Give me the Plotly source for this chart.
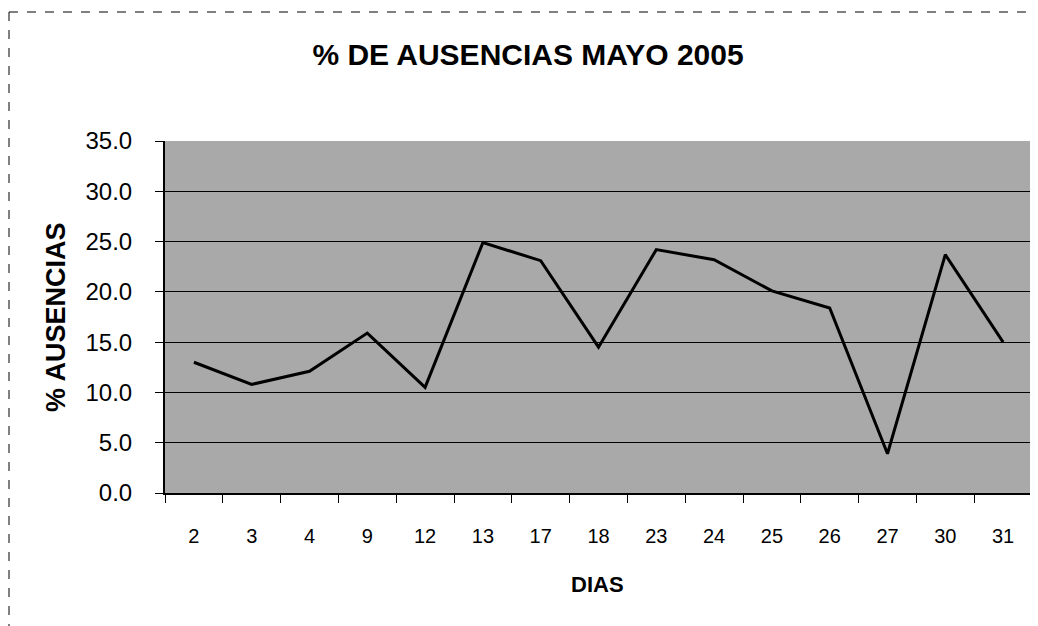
import plotly.graph_objects as go

dias = ["2", "3", "4", "9", "12", "13", "17", "18", "23", "24", "25", "26", "27", "30", "31"]
ausencias = [13.0, 10.8, 12.1, 15.9, 10.5, 24.9, 23.1, 14.5, 24.2, 23.2, 20.1, 18.4, 3.9, 23.7, 15.0]
y_ticks = [0, 5, 10, 15, 20, 25, 30, 35]
y_tick_text = ["0.0", "5.0", "10.0", "15.0", "20.0", "25.0", "30.0", "35.0"]

FONT = "Liberation Sans, Arial, sans-serif"

# the page body has an 8px margin; work in figure coordinates = reference - 8
OFF = 8
W, H = 1030, 618
L, T = 165 - OFF, 141 - OFF
R = W - (1032 - OFF)
B = H - (493 - OFF)
pw = W - L - R
ph = H - T - B


def px(x):
    return (x - OFF - L) / pw


def py(y):
    return (H - B - (y - OFF)) / ph


fig = go.Figure()
fig.add_trace(go.Scatter(
    x=dias, y=ausencias, mode="lines",
    line=dict(color="black", width=3),
    showlegend=False,
))

fig.update_layout(
    width=W, height=H,
    margin=dict(l=L, r=R, t=T, b=B),
    paper_bgcolor="white",
    plot_bgcolor="#a9a9a9",
    font=dict(family=FONT, color="black"),
    title=dict(text="<b>% DE AUSENCIAS MAYO 2005</b>", x=(528 - OFF) / W, xanchor="center",
               y=1 - (54 - OFF) / H, yanchor="middle", font=dict(size=30, family=FONT)),
    xaxis=dict(
        type="category", range=[-0.5, len(dias) - 0.5],
        showgrid=False, showline=True, linecolor="black", linewidth=2,
        ticks="outside", tickson="boundaries", ticklen=8, tickcolor="black",
        tickfont=dict(size=20, family=FONT), ticklabelstandoff=24,
        zeroline=False,
    ),
    yaxis=dict(
        range=[0, 35], tickvals=y_ticks, ticktext=y_tick_text,
        showgrid=True, gridcolor="black", gridwidth=1,
        showline=True, linecolor="black", linewidth=2,
        ticks="outside", ticklen=8, tickcolor="black",
        tickfont=dict(size=24, family=FONT), ticklabelstandoff=18,
        zeroline=False,
    ),
    annotations=[
        dict(text="<b>% AUSENCIAS</b>", x=px(56), y=py(317),
             xref="paper", yref="paper", showarrow=False, textangle=-90,
             font=dict(size=27, family=FONT), xanchor="center", yanchor="middle"),
        dict(text="<b>DIAS</b>", x=px(597), y=py(584),
             xref="paper", yref="paper", showarrow=False,
             font=dict(size=22, family=FONT), xanchor="center", yanchor="middle"),
    ],
    shapes=[
        dict(type="line", xref="paper", yref="paper",
             x0=px(9), x1=px(1038), y0=py(12), y1=py(12),
             line=dict(color="black", width=1, dash="dash")),
        dict(type="line", xref="paper", yref="paper",
             x0=px(9), x1=px(9), y0=py(12), y1=py(626),
             line=dict(color="black", width=1, dash="dash")),
        dict(type="line", xref="paper", yref="paper",
             x0=1, x1=1, y0=0, y1=1,
             line=dict(color="black", width=1, dash="dot")),
    ],
)

fig.write_html("out.html")
